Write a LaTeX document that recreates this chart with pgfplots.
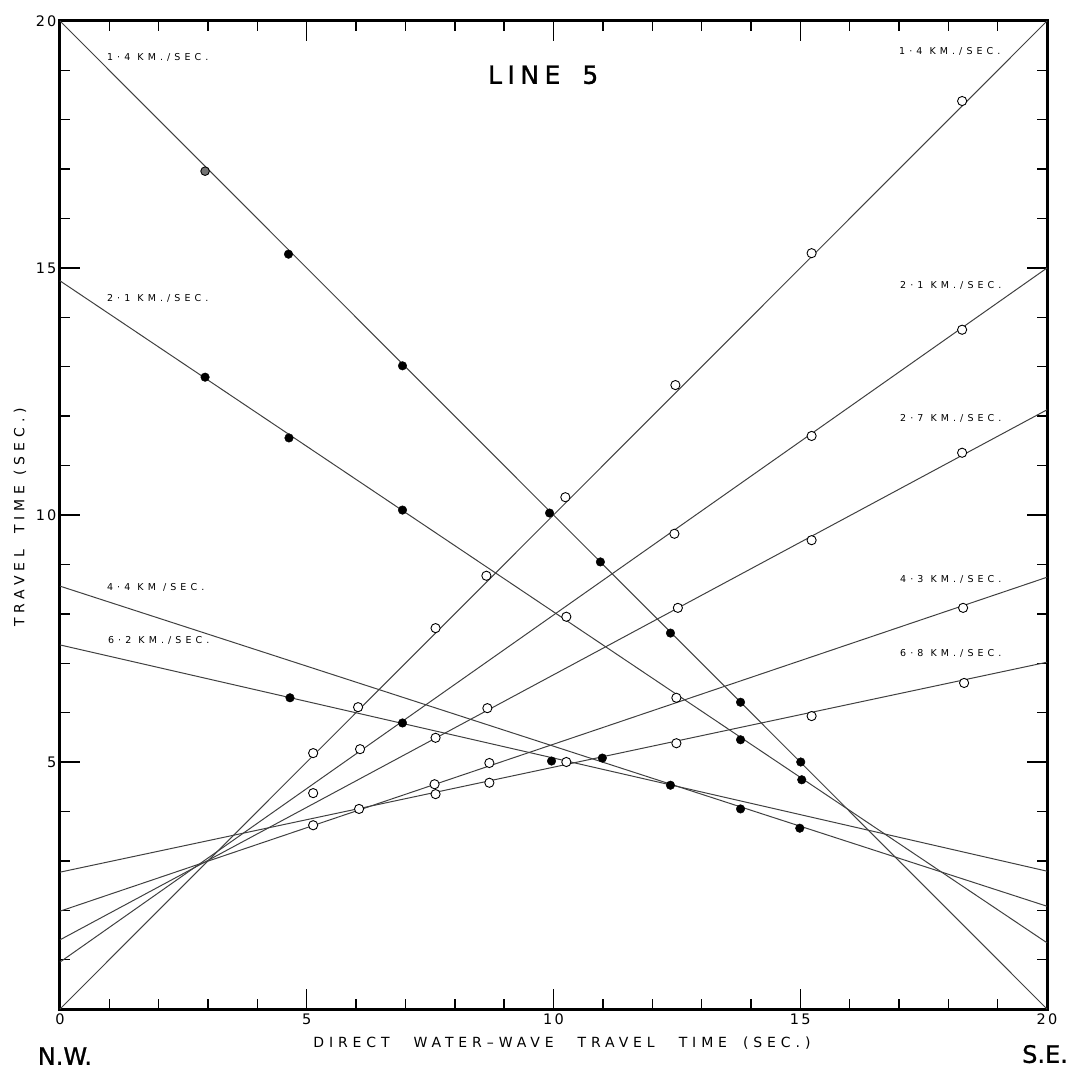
\documentclass[border=0pt]{standalone}
\usepackage{fontspec}
\setmainfont{DejaVu Sans}
\newfontfamily\labfont[LetterSpace=43]{DejaVu Sans}
\newfontfamily\axfont[LetterSpace=35]{DejaVu Sans}
\newfontfamily\tickfont[LetterSpace=15]{DejaVu Sans}
\newfontfamily\titfont[LetterSpace=22,FakeBold=1.2]{DejaVu Sans}
\newfontfamily\nwfont[FakeBold=1.0]{DejaVu Sans}
\usepackage{pgfplots}
\pgfplotsset{compat=1.18}
\tikzset{lab/.style={anchor=west, font=\labfont\fontsize{9.5}{10}\selectfont, inner sep=0pt}}
\begin{document}
\begin{tikzpicture}
\begin{axis}[
  scale only axis, width=987pt, height=988pt,
  xmin=0, xmax=20, ymin=0, ymax=20,
  axis line style={line width=3pt, black},
  xtick={0,5,10,15,20}, ytick={5,10,15,20},
  xticklabels={0,5,10,15,20}, yticklabels={5,10,15,20},
  minor xtick={1,2,3,4,6,7,8,9,11,12,13,14,16,17,18,19},
  minor ytick={1,2,3,4,6,7,8,9,11,12,13,14,16,17,18,19},
  xtick pos=both, ytick pos=both,
  xticklabel pos=lower, yticklabel pos=left,
  tick align=inside,
  major tick length=20pt, minor tick length=10pt,
  every tick/.style={line width=1.4pt, black},
  xticklabel style={font=\tickfont\fontsize{14.5}{14.5}\selectfont, anchor=north, yshift=-1pt},
  yticklabel style={font=\tickfont\fontsize{14.5}{14.5}\selectfont, anchor=east, xshift=0pt},
  clip=false,
  ln/.style={no marks, black!75, line width=1pt},
  filled/.style={only marks, mark=*, mark size=4.3pt, mark options={fill=black, draw=black}},
  open/.style={only marks, mark=*, mark size=4.6pt, mark options={fill=white, draw=black, line width=0.9pt}},
]
% N.W. shot lines
\addplot[ln] coordinates {(0,20) (20,0)};
\addplot[ln] coordinates {(0,14.74) (20,1.34)};
\addplot[ln] coordinates {(0,8.56) (20,2.08)};
\addplot[ln] coordinates {(0,7.37) (20,2.79)};
% S.E. shot lines
\addplot[ln] coordinates {(0,0) (20,20)};
\addplot[ln] coordinates {(0,0.95) (20,15.0)};
\addplot[ln] coordinates {(0,1.40) (20,12.13)};
\addplot[ln] coordinates {(0,1.98) (20,8.74)};
\addplot[ln] coordinates {(0,2.77) (20,7.02)};
% filled points (N.W.)
\addplot[only marks, mark=*, mark size=4.3pt, mark options={fill=black!55, draw=black, line width=0.9pt}] coordinates {(2.94,16.96)};
\addplot[filled] coordinates {(4.63,15.28) (6.94,13.02) (9.92,10.04) (10.95,9.05) (12.37,7.61) (13.79,6.21) (15.01,5.00)};
\addplot[filled] coordinates {(2.94,12.79) (4.64,11.56) (6.94,10.10) (13.79,5.45) (15.03,4.64)};
\addplot[filled] coordinates {(10.99,5.08) (12.37,4.53) (13.79,4.05) (14.99,3.66)};
\addplot[filled] coordinates {(4.66,6.30) (6.94,5.79) (9.96,5.02)};
% open points (S.E.)
\addplot[open] coordinates {(5.13,5.18) (6.04,6.11) (7.61,7.71) (8.64,8.77) (10.24,10.36) (12.47,12.63) (15.23,15.30) (18.28,18.38)};
\addplot[open] coordinates {(6.08,5.26) (10.26,7.94) (12.45,9.62) (15.23,11.60) (18.28,13.75)};
\addplot[open] coordinates {(5.13,4.37) (7.61,5.49) (8.66,6.09) (12.52,8.12) (15.23,9.49) (18.28,11.26)};
\addplot[open] coordinates {(5.13,3.72) (7.59,4.55) (8.70,4.98) (12.49,6.30) (18.30,8.12)};
\addplot[open] coordinates {(6.06,4.05) (7.61,4.35) (8.70,4.58) (10.26,5.00) (12.49,5.38) (15.23,5.93) (18.32,6.60)};
% velocity labels
\node[lab] at (axis cs:0.95,19.27) {1·4 KM./SEC.};
\node[lab] at (axis cs:0.95,14.39) {2·1 KM./SEC.};
\node[lab] at (axis cs:0.95,8.54) {4·4 KM /SEC.};
\node[lab] at (axis cs:0.97,7.47) {6·2 KM./SEC.};
\node[lab] at (axis cs:17.0,19.39) {1·4 KM./SEC.};
\node[lab] at (axis cs:17.02,14.64) {2·1 KM./SEC.};
\node[lab] at (axis cs:17.02,11.96) {2·7 KM./SEC.};
\node[lab] at (axis cs:17.02,8.70) {4·3 KM./SEC.};
\node[lab] at (axis cs:17.02,7.20) {6·8 KM./SEC.};
% title
\node[anchor=west, inner sep=0pt, font=\titfont\fontsize{25}{25}\selectfont] at (axis cs:8.67,18.91) {LINE\hspace{22pt}5};
% axis labels
\node[anchor=west, inner sep=0pt, font=\axfont\fontsize{14}{14}\selectfont] at (axis cs:5.13,-0.69) {DIRECT\hspace{24pt}WATER–WAVE\hspace{24pt}TRAVEL\hspace{24pt}TIME\hspace{16pt}(SEC.)};
\node[inner sep=0pt, rotate=90, font=\axfont\fontsize{14}{14}\selectfont] at (axis cs:-0.81,9.95) {TRAVEL\hspace{16pt}TIME\hspace{10pt}(SEC.)};
\node[anchor=base, inner sep=0pt, font=\nwfont\fontsize{24}{24}\selectfont] at (axis cs:0.10,-1.13) {N.W.};
\node[anchor=base, inner sep=0pt, font=\nwfont\fontsize{24}{24}\selectfont] at (axis cs:19.96,-1.09) {S.E.};
\end{axis}
\pgfresetboundingbox
\path[use as bounding box] (-60pt,-60pt) rectangle (1024pt,1009pt);
\end{tikzpicture}
\end{document}
